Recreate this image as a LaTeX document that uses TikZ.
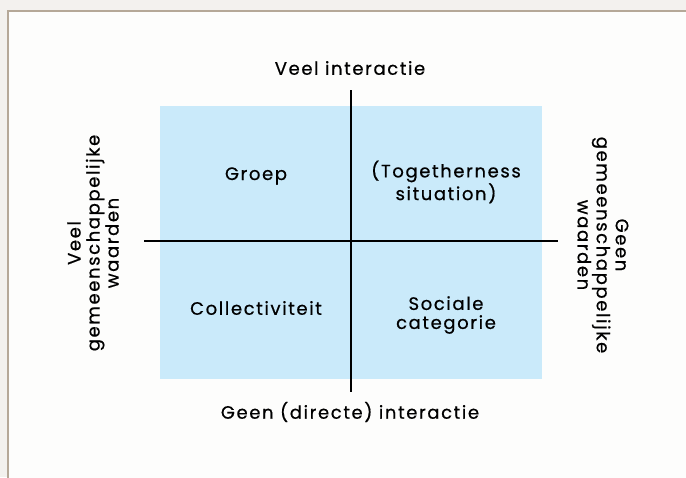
\documentclass[tikz,border=0pt]{standalone}
\usepackage{fontspec}
\setmainfont{Poppins}[LetterSpace=9,FakeBold=0.6]
\definecolor{outerbg}{RGB}{243,241,238}
\definecolor{panelbg}{RGB}{253,253,252}
\definecolor{panelborder}{RGB}{181,168,152}
\definecolor{quadblue}{RGB}{202,234,250}
\tikzset{
  lbl/.style={inner sep=0pt, align=center, text=black, font=\fontsize{18}{19}\selectfont},
  axisline/.style={draw=black, line width=1.8pt}
}
\begin{document}
\begin{tikzpicture}[x=1pt,y=-1pt]
\useasboundingbox (0,0) rectangle (686,477);
\fill[outerbg] (0,0) rectangle (686,477);
\fill[panelbg] (8,11) rectangle (690,480);
\draw[panelborder, line width=2.2pt] (8,482) -- (8,11) -- (690,11);
\fill[quadblue] (160,106) rectangle (542,379);
\coordinate (vtop) at (350.7,90);
\coordinate (vbot) at (350.7,392);
\coordinate (hleft) at (144,241);
\coordinate (hright) at (558,241);
\draw[axisline] (vtop) -- (vbot);
\draw[axisline] (hleft) -- (hright);
\node[lbl] (top) at (350,68) {Veel interactie};
\node[lbl] (bottom) at (350,412) {Geen (directe) interactie};
\node[lbl] (groep) at (256,176) {Groep};
\node[lbl] (together) at (446,182) {(Togetherness\\situation)};
\node[lbl] (collect) at (256,308) {Collectiviteit};
\node[lbl] (sociaal) at (446,315) {Sociale\\categorie};
\node[lbl, rotate=90] (left) at (93,243) {Veel\\gemeenschappelijke\\waarden};
\node[lbl, rotate=-90] (right) at (603,245) {Geen\\gemeenschappelijke\\waarden};
\end{tikzpicture}
\end{document}
